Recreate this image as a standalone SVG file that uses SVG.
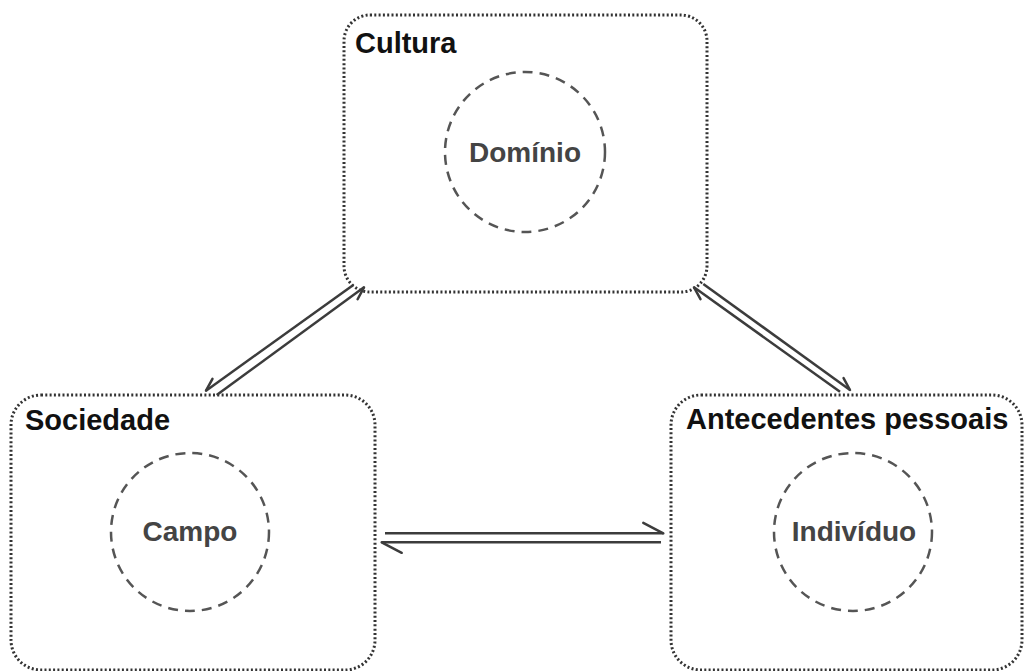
<svg xmlns="http://www.w3.org/2000/svg" width="1026" height="671" viewBox="0 0 1026 671">
<style>
.box{fill:#fff;stroke:#333;stroke-width:3;stroke-dasharray:2 2.3}
.circ{fill:none;stroke:#555;stroke-width:2.5;stroke-dasharray:10 7}
.title{font-family:"Liberation Sans",Arial,sans-serif;font-weight:bold;font-size:29px;fill:#111}
.inner{font-family:"Liberation Sans",Arial,sans-serif;font-weight:bold;font-size:28px;fill:#444;text-anchor:middle}
.conn line{stroke:#3c3c3c;stroke-width:2.5;fill:none}
.barb{stroke:#3c3c3c;stroke-width:2.5;fill:none;stroke-linecap:round}
</style>
<defs>
<marker id="hp" markerUnits="userSpaceOnUse" orient="auto" viewBox="-15 -15 30 30" markerWidth="30" markerHeight="30" refX="0" refY="0"><path class="barb" d="M-12.2,5.9 L0,0"/></marker>
<marker id="hn" markerUnits="userSpaceOnUse" orient="auto" viewBox="-15 -15 30 30" markerWidth="30" markerHeight="30" refX="0" refY="0"><path class="barb" d="M-12.2,-5.9 L0,0"/></marker>
<marker id="hbig" markerUnits="userSpaceOnUse" orient="auto" viewBox="-25 -15 30 30" markerWidth="30" markerHeight="30" refX="0" refY="0"><path class="barb" d="M-20,-10.5 L0,0"/></marker>
</defs>
<g id="cultura">
<rect class="box" x="344" y="15" width="363" height="277" rx="26"/>
<text class="title" x="355" y="53">Cultura</text>
<circle class="circ" cx="525" cy="152" r="80"/>
<text class="inner" x="525" y="162">Domínio</text>
</g>
<g id="sociedade">
<rect class="box" x="11" y="395" width="364" height="275" rx="30"/>
<text class="title" x="25" y="430">Sociedade</text>
<circle class="circ" cx="190" cy="532" r="79"/>
<text class="inner" x="190" y="541">Campo</text>
</g>
<g id="antecedentes">
<rect class="box" x="671" y="395" width="351" height="275" rx="30"/>
<text class="title" x="686" y="429">Antecedentes pessoais</text>
<circle class="circ" cx="853" cy="532" r="79"/>
<text class="inner" x="854" y="541">Indivíduo</text>
</g>
<g id="connectors" class="conn">
<line x1="353.3" y1="285" x2="206" y2="390.7" marker-end="url(#hp)"/>
<line x1="216.7" y1="395" x2="364" y2="287.3" marker-end="url(#hp)"/>
<line x1="840" y1="391.7" x2="694" y2="287.3" marker-end="url(#hn)"/>
<line x1="703.3" y1="284" x2="850" y2="390" marker-end="url(#hn)"/>
<line x1="385" y1="533.3" x2="663.3" y2="533.3" marker-end="url(#hbig)"/>
<line x1="661" y1="542.3" x2="381.7" y2="542.3" marker-end="url(#hbig)"/>
</g>
</svg>
